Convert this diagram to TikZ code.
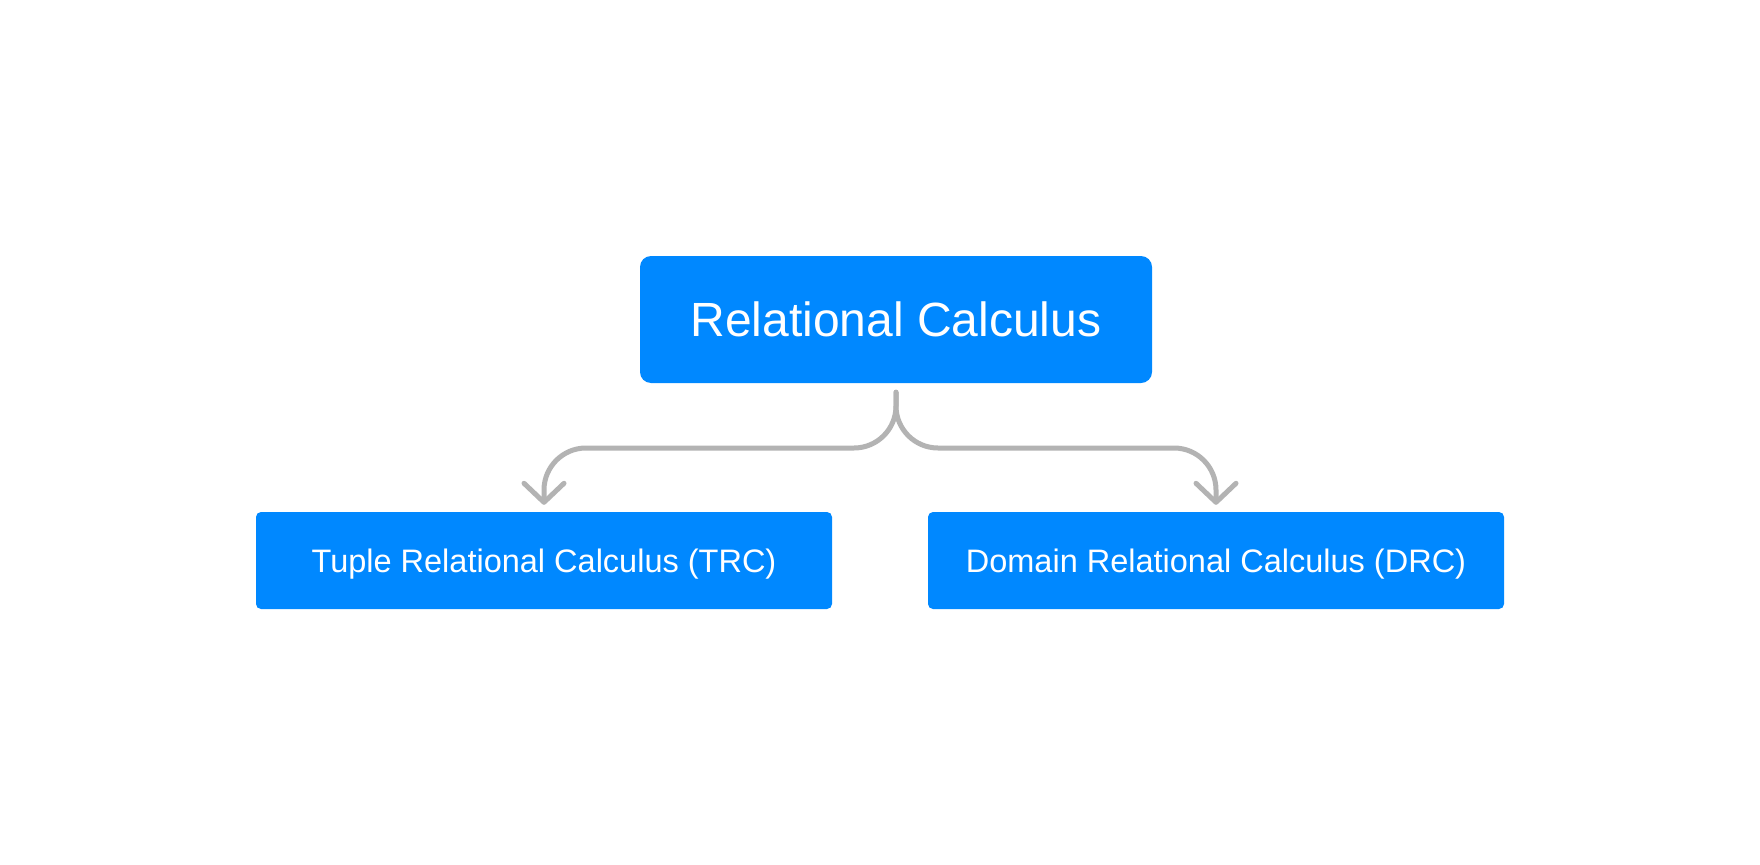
\documentclass[tikz,border=0pt]{standalone}
\usepackage{fontspec}
\setmainfont{Liberation Sans}
\usetikzlibrary{arrows.meta}
\definecolor{boxblue}{HTML}{0088FF}
\definecolor{linegray}{HTML}{B3B3B3}
\tikzset{
    calcbox/.style={fill=boxblue, text=white, inner sep=0pt, align=center, text depth=0pt},
    conn/.style={draw=linegray, line width=5pt, line cap=round, line join=round,
        rounded corners=42pt, -{Straight Barb[length=19pt, width=40pt, round]}}
}
\begin{document}
\begin{tikzpicture}[x=1pt, y=-1pt]
\fill[white] (0,0) rectangle (1760,864);
\useasboundingbox (0,0) rectangle (1760,864);
\node[calcbox, rounded corners=11pt, minimum width=512pt, minimum height=127pt,
    text height=34.4pt, font=\fontsize{48}{58}\selectfont] (rc) at (896,319.5){Relational Calculus};
\node[calcbox, rounded corners=5pt, minimum width=576pt, minimum height=97pt,
    text height=23.3pt, font=\fontsize{32.5}{40}\selectfont] (trc) at (544,560.5){Tuple Relational Calculus (TRC)};
\node[calcbox, rounded corners=5pt, minimum width=576pt, minimum height=97pt,
    text height=23.3pt, font=\fontsize{32.5}{40}\selectfont] (drc) at (1216,560.5){Domain Relational Calculus (DRC)};
\coordinate (split) at (896,448);
\draw[conn, shorten <=9pt, shorten >=7pt] (rc.south) -- (split) -| (trc.north);
\draw[conn, shorten <=9pt, shorten >=7pt] (rc.south) -- (split) -| (drc.north);
\end{tikzpicture}
\end{document}
